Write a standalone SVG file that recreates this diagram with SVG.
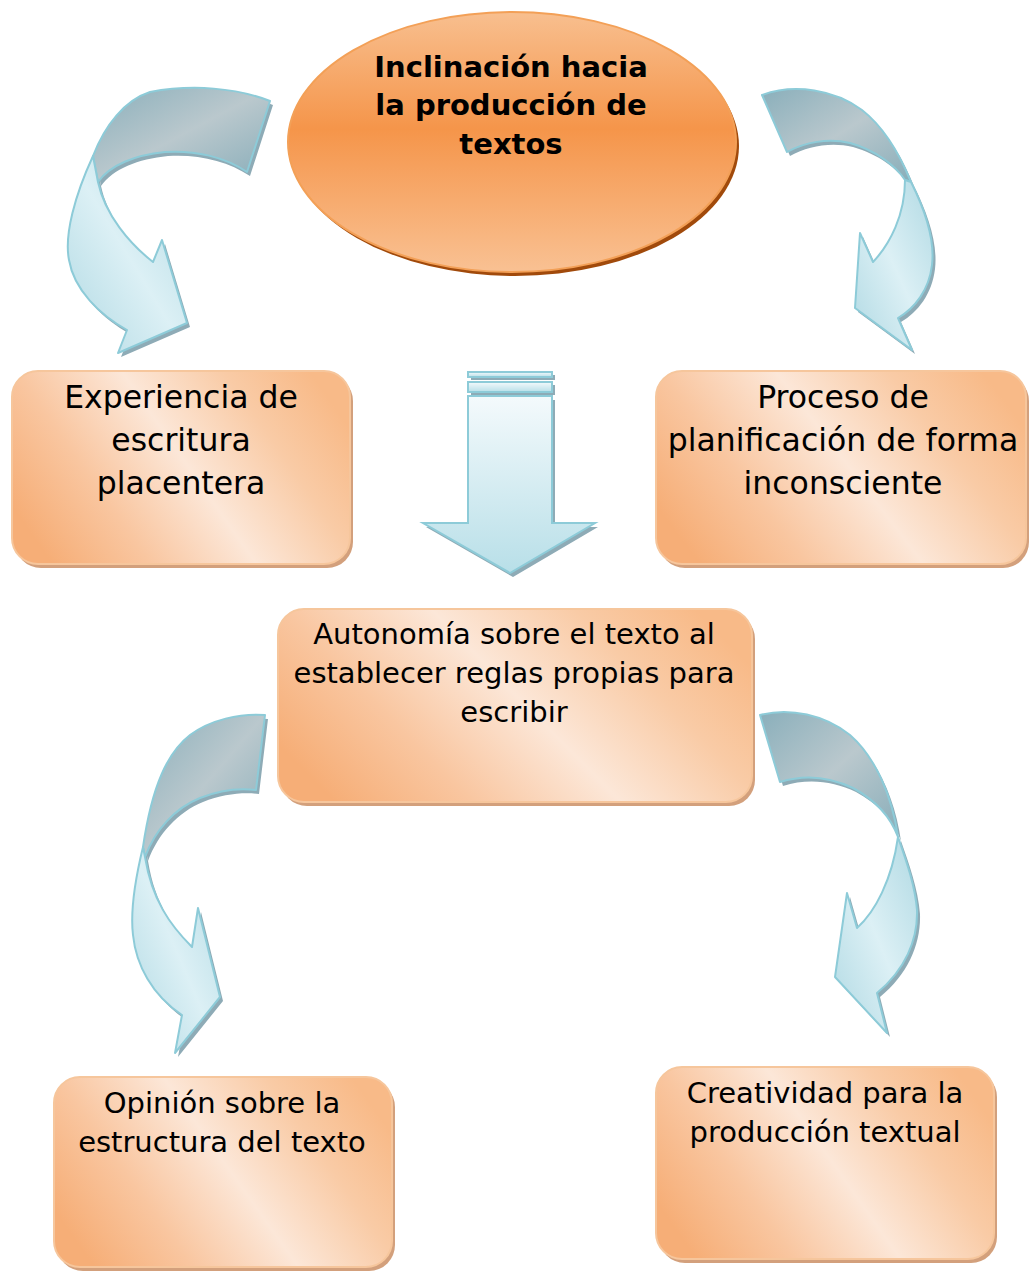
<svg xmlns="http://www.w3.org/2000/svg" xmlns:xlink="http://www.w3.org/1999/xlink" width="1030" height="1272" viewBox="0 0 1030 1272">
<defs>
<linearGradient id="gBox" x1="0" y1="0.7" x2="1" y2="0.3">
<stop offset="0" stop-color="#f6ae77"/>
<stop offset="0.25" stop-color="#f9c6a0"/>
<stop offset="0.52" stop-color="#fce7d8"/>
<stop offset="0.78" stop-color="#f9cba6"/>
<stop offset="1" stop-color="#f8ba88"/>
</linearGradient>
<linearGradient id="gEll" x1="0" y1="0" x2="0" y2="1">
<stop offset="0" stop-color="#f8bf8f"/>
<stop offset="0.45" stop-color="#f5954a"/>
<stop offset="1" stop-color="#f9c193"/>
</linearGradient>
<linearGradient id="gGrey" x1="0" y1="0" x2="1" y2="1">
<stop offset="0" stop-color="#8aafbb"/>
<stop offset="0.5" stop-color="#bac8cd"/>
<stop offset="1" stop-color="#88adb9"/>
</linearGradient>
<linearGradient id="gBlue" x1="0" y1="1" x2="1" y2="0">
<stop offset="0" stop-color="#b0d9e3"/>
<stop offset="0.5" stop-color="#dcf0f5"/>
<stop offset="1" stop-color="#b0d9e3"/>
</linearGradient>
<linearGradient id="gDown" x1="0" y1="0" x2="0" y2="1">
<stop offset="0" stop-color="#f4fafc"/>
<stop offset="1" stop-color="#b8dfe8"/>
</linearGradient>
<path id="aA1" d="M270,101 C237,88 193,84 150,92 C125,100 105,125 93,156 L98,182 C110,165 135,155 165,152 C195,150 225,157 247,172 Z"/>
<path id="aA2" d="M93,156 C75,195 64,235 69,260 C74,290 100,315 127,330 L118,353 L187,323 L162,240 L153,262 C130,244 105,215 98,182 Z"/>
<path id="aB1" d="M762,95 C795,83 835,90 862,110 C885,128 900,155 911,182 L905,180 C895,165 875,150 850,143 C828,138 805,142 787,152 Z"/>
<path id="aB2" d="M911,182 C925,210 935,240 932,265 C929,290 915,308 898,318 L912,350 L855,308 L860,233 L873,262 C890,244 905,215 905,180 Z"/>
<path id="aC1" d="M265,715 C240,713 210,720 190,735 C168,752 152,785 143,847 L145,857 C155,830 175,808 200,798 C220,790 240,788 256,790 Z"/>
<path id="aC2" d="M143,847 C135,880 130,910 133,935 C136,965 152,995 182,1015 L175,1053 L220,997 L198,908 L192,947 C170,925 152,900 145,857 Z"/>
<path id="aD1" d="M760,715 C790,707 825,715 850,735 C875,757 892,795 898,837 C890,815 875,800 853,788 C830,777 805,774 780,782 Z"/>
<path id="aD2" d="M898,837 C906,860 915,885 917,910 C918,940 905,970 877,993 L887,1033 L835,977 L847,893 L857,928 C875,912 892,880 898,837 Z"/>
<path id="down" d="M468,396 L552,396 L552,523 L595,523 L510,573 L423,523 L468,523 Z"/>
</defs>
<style>
.box{stroke:#f6c69c;stroke-width:2;fill:url(#gBox)}
.boxsh{fill:#d3a07c}
.t{font-family:"DejaVu Sans","Noto Sans",sans-serif;fill:#000;text-anchor:middle}
.big{font-size:31.5px}
.med{font-size:29px}
.bold{font-weight:bold;font-size:29px}
.ash{fill:#8eabb6}
.grey{fill:url(#gGrey);stroke:#8dcbd8;stroke-width:2;stroke-linejoin:round}
.blue{fill:url(#gBlue);stroke:#8dcbd8;stroke-width:2;stroke-linejoin:round}
.dn{fill:url(#gDown);stroke:#8dcbd8;stroke-width:2}
</style>
<g id="connectors">
<g id="arrow-top-left">
<use xlink:href="#aA1" class="ash" transform="translate(3,4)"/>
<use xlink:href="#aA2" class="ash" transform="translate(3,4)"/>
<use xlink:href="#aA1" class="grey"/>
<use xlink:href="#aA2" class="blue"/>
</g>
<g id="arrow-top-right">
<use xlink:href="#aB1" class="ash" transform="translate(3,4)"/>
<use xlink:href="#aB2" class="ash" transform="translate(3,4)"/>
<use xlink:href="#aB1" class="grey"/>
<use xlink:href="#aB2" class="blue"/>
</g>
<g id="arrow-bottom-left">
<use xlink:href="#aC1" class="ash" transform="translate(3,4)"/>
<use xlink:href="#aC2" class="ash" transform="translate(3,4)"/>
<use xlink:href="#aC1" class="grey"/>
<use xlink:href="#aC2" class="blue"/>
</g>
<g id="arrow-bottom-right">
<use xlink:href="#aD1" class="ash" transform="translate(3,4)"/>
<use xlink:href="#aD2" class="ash" transform="translate(3,4)"/>
<use xlink:href="#aD1" class="grey"/>
<use xlink:href="#aD2" class="blue"/>
</g>
<g id="arrow-down">
<rect x="471" y="375" width="84" height="5" class="ash"/>
<rect x="471" y="385" width="84" height="10" class="ash"/>
<use xlink:href="#down" class="ash" transform="translate(3,4)"/>
<rect x="468" y="372" width="84" height="5" class="dn"/>
<rect x="468" y="382" width="84" height="10" class="dn"/>
<use xlink:href="#down" class="dn"/>
</g>
</g>
<g id="node-main">
<ellipse cx="515" cy="146" rx="224" ry="130" fill="#a14a0b"/>
<ellipse cx="512" cy="142" rx="224" ry="130" fill="url(#gEll)" stroke="#f3a057" stroke-width="2"/>
<text class="t bold" x="511" y="77">Inclinación hacia</text>
<text class="t bold" x="511" y="115">la producción de</text>
<text class="t bold" x="511" y="154">textos</text>
</g>
<g id="node-experiencia">
<rect x="15" y="375" width="338" height="193" rx="26" class="boxsh"/>
<rect x="12" y="371" width="338" height="193" rx="26" class="box"/>
<text class="t big" x="181" y="408">Experiencia de</text>
<text class="t big" x="181" y="451">escritura</text>
<text class="t big" x="181" y="494">placentera</text>
</g>
<g id="node-proceso">
<rect x="659" y="375" width="370" height="193" rx="26" class="boxsh"/>
<rect x="656" y="371" width="370" height="193" rx="26" class="box"/>
<text class="t big" x="843" y="408">Proceso de</text>
<text class="t big" x="843" y="451">planificación de forma</text>
<text class="t big" x="843" y="494">inconsciente</text>
</g>
<g id="node-autonomia">
<rect x="281" y="613" width="474" height="193" rx="26" class="boxsh"/>
<rect x="278" y="609" width="474" height="193" rx="26" class="box"/>
<text class="t med" x="514" y="644">Autonomía sobre el texto al</text>
<text class="t med" x="514" y="683">establecer reglas propias para</text>
<text class="t med" x="514" y="722">escribir</text>
</g>
<g id="node-opinion">
<rect x="57" y="1081" width="338" height="190" rx="26" class="boxsh"/>
<rect x="54" y="1077" width="338" height="190" rx="26" class="box"/>
<text class="t med" x="222" y="1113">Opinión sobre la</text>
<text class="t med" x="222" y="1152">estructura del texto</text>
</g>
<g id="node-creatividad">
<rect x="659" y="1071" width="338" height="192" rx="26" class="boxsh"/>
<rect x="656" y="1067" width="338" height="192" rx="26" class="box"/>
<text class="t med" x="825" y="1103">Creatividad para la</text>
<text class="t med" x="825" y="1142">producción textual</text>
</g>
</svg>
